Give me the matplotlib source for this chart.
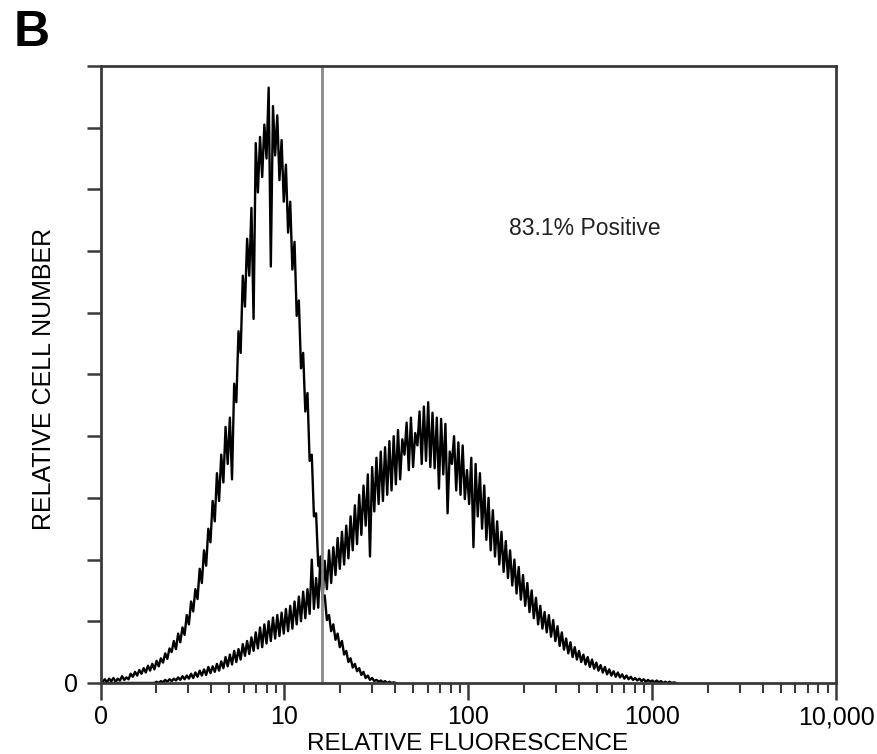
import numpy as np
import matplotlib.pyplot as plt
from matplotlib.ticker import FixedLocator, FixedFormatter, LogLocator, NullFormatter

plt.rcParams['font.family'] = ['Liberation Sans', 'DejaVu Sans']

# histogram bin width in channels (256 channels per decade)
channel_step = 3

# unstained control, counts per bin (relative units, 0-10)
control_counts = [
    0.06, 0.02, 0.06, 0.01, 0.07, 0.03, 0.08, 0.02, 0.07, 0.04,
    0.11, 0.05, 0.09, 0.06, 0.15, 0.10, 0.18, 0.12, 0.21, 0.15,
    0.24, 0.17, 0.28, 0.20, 0.31, 0.22, 0.36, 0.27, 0.40, 0.33,
    0.48, 0.39, 0.56, 0.50, 0.68, 0.55, 0.80, 0.66, 0.90, 0.78,
    1.10, 0.95, 1.32, 1.16, 1.52, 1.36, 1.85, 1.62, 2.15, 1.90,
    2.50, 2.28, 2.95, 2.62, 3.40, 2.95, 3.70, 3.25, 4.15, 3.55,
    4.30, 3.30, 4.85, 4.55, 5.70, 5.35, 6.60, 6.10, 7.20, 6.60,
    7.70, 5.90, 8.75, 7.95, 8.85, 8.20, 9.05, 8.50, 9.65, 6.75,
    9.35, 8.55, 9.20, 8.15, 8.80, 7.80, 8.40, 7.30, 7.80, 6.70,
    7.15, 5.95, 6.20, 5.10, 5.35, 4.40, 4.70, 3.60, 3.70, 2.70,
    2.75, 1.90, 1.88, 1.38, 1.42, 1.02, 1.10, 0.84, 0.95, 0.70,
    0.80, 0.58, 0.68, 0.46, 0.52, 0.34, 0.40, 0.25, 0.31, 0.19,
    0.24, 0.13, 0.18, 0.08, 0.12, 0.05, 0.08, 0.03, 0.05, 0.02,
    0.04, 0.01, 0.03, 0.00, 0.02, 0.00, 0.01, 0.00,
]

# stained sample, counts per bin
stained_counts = [
    0.00, 0.00, 0.00, 0.00, 0.00, 0.00, 0.00, 0.00, 0.00, 0.00,
    0.00, 0.00, 0.00, 0.00, 0.00, 0.00, 0.00, 0.00, 0.00, 0.00,
    0.00, 0.00, 0.00, 0.00, 0.00, 0.00, 0.02, 0.00, 0.03, 0.01,
    0.05, 0.02, 0.06, 0.03, 0.07, 0.04, 0.09, 0.05, 0.11, 0.06,
    0.12, 0.07, 0.15, 0.08, 0.17, 0.10, 0.20, 0.12, 0.22, 0.13,
    0.26, 0.16, 0.27, 0.18, 0.31, 0.20, 0.35, 0.24, 0.42, 0.27,
    0.46, 0.30, 0.52, 0.34, 0.55, 0.38, 0.63, 0.44, 0.68, 0.47,
    0.74, 0.52, 0.82, 0.56, 0.90, 0.58, 0.95, 0.64, 1.00, 0.68,
    1.06, 0.72, 1.10, 0.76, 1.14, 0.80, 1.20, 0.84, 1.25, 0.88,
    1.32, 0.95, 1.40, 1.00, 1.48, 1.05, 1.52, 1.12, 2.00, 1.20,
    1.70, 1.22, 2.05, 1.35, 1.98, 1.52, 2.15, 1.62, 2.20, 1.75,
    2.35, 1.85, 2.45, 1.92, 2.55, 2.02, 2.70, 2.15, 2.88, 2.25,
    3.05, 2.40, 3.20, 2.55, 3.38, 2.05, 3.50, 2.78, 3.65, 2.90,
    3.75, 2.95, 3.82, 3.05, 3.92, 3.12, 4.00, 3.22, 4.10, 3.30,
    3.95, 3.70, 4.22, 3.45, 4.30, 3.50, 4.05, 3.85, 4.40, 3.55,
    4.48, 3.60, 4.55, 3.50, 4.38, 3.48, 4.30, 3.15, 4.28, 3.38,
    4.20, 2.75, 3.75, 3.55, 4.00, 3.12, 3.90, 3.05, 3.85, 2.98,
    3.45, 2.90, 3.65, 2.20, 3.55, 2.70, 3.40, 2.50, 3.20, 2.32,
    3.00, 2.15, 2.80, 2.05, 2.62, 1.92, 2.45, 1.80, 2.30, 1.70,
    2.15, 1.58, 2.00, 1.45, 1.88, 1.35, 1.75, 1.25, 1.62, 1.15,
    1.50, 1.05, 1.38, 0.95, 1.25, 0.88, 1.15, 0.82, 1.10, 0.75,
    1.02, 0.68, 0.92, 0.60, 0.82, 0.54, 0.72, 0.48, 0.66, 0.42,
    0.58, 0.38, 0.52, 0.34, 0.46, 0.30, 0.42, 0.26, 0.38, 0.23,
    0.33, 0.20, 0.29, 0.17, 0.26, 0.14, 0.22, 0.12, 0.19, 0.10,
    0.17, 0.09, 0.14, 0.07, 0.12, 0.06, 0.10, 0.05, 0.08, 0.04,
    0.07, 0.03, 0.06, 0.02, 0.05, 0.02, 0.04, 0.01, 0.04, 0.01,
    0.03, 0.00, 0.02, 0.00, 0.02, 0.00, 0.01, 0.00,
]

gate_value = 16
positive_text = "83.1% Positive"

x_tick_values = [1, 10, 100, 1000, 10000]
x_tick_labels = ["0", "10", "100", "1000", "10,000"]
y_tick_values = [0, 1, 2, 3, 4, 5, 6, 7, 8, 9, 10]

fig = plt.figure(figsize=(8.78, 7.54), dpi=100)
ax = fig.add_axes([0.1145, 0.0942, 0.838, 0.8183])

x_control = 10 ** (np.arange(len(control_counts)) * channel_step / 256)
x_stained = 10 ** (np.arange(len(stained_counts)) * channel_step / 256)

ax.plot(x_control, control_counts, color='black', lw=1.7)
ax.plot(x_stained, stained_counts, color='black', lw=1.7)
ax.axvline(gate_value, color='#8a8a8a', lw=2)

ax.set_xscale('log')
ax.set_xlim(1, 10000)
ax.set_ylim(0, 10)

ax.xaxis.set_major_locator(FixedLocator(x_tick_values))
ax.xaxis.set_major_formatter(FixedFormatter(x_tick_labels))
ax.xaxis.set_minor_locator(LogLocator(base=10, subs=range(2, 10)))
ax.xaxis.set_minor_formatter(NullFormatter())

ax.yaxis.set_major_locator(FixedLocator(y_tick_values))
ax.yaxis.set_major_formatter(FixedFormatter(["0"] + [""] * 10))

for s in ax.spines.values():
    s.set_color('#3a3a3a')
    s.set_linewidth(2)

ax.tick_params(axis='x', which='major', length=12, width=1.8, color='#3a3a3a',
               labelsize=18, pad=4)
ax.tick_params(axis='x', which='minor', length=7, width=1.5, color='#3a3a3a')
ax.tick_params(axis='y', length=10, width=1.8, color='#3a3a3a', labelsize=18, pad=6)

ax.text(432, 7.36, positive_text, ha='center', va='center', fontsize=16.5, color='#222222')

fig.text(0.533, 0.0135, "RELATIVE FLUORESCENCE", ha='center', va='center', fontsize=17.5)
fig.text(0.0501, 0.498, "RELATIVE CELL NUMBER", ha='center', va='center',
         rotation=90, fontsize=18)
fig.text(0.015, 0.987, "B", ha='left', va='top', fontsize=36, fontweight='bold')

fig.savefig('out.png', dpi=100)
